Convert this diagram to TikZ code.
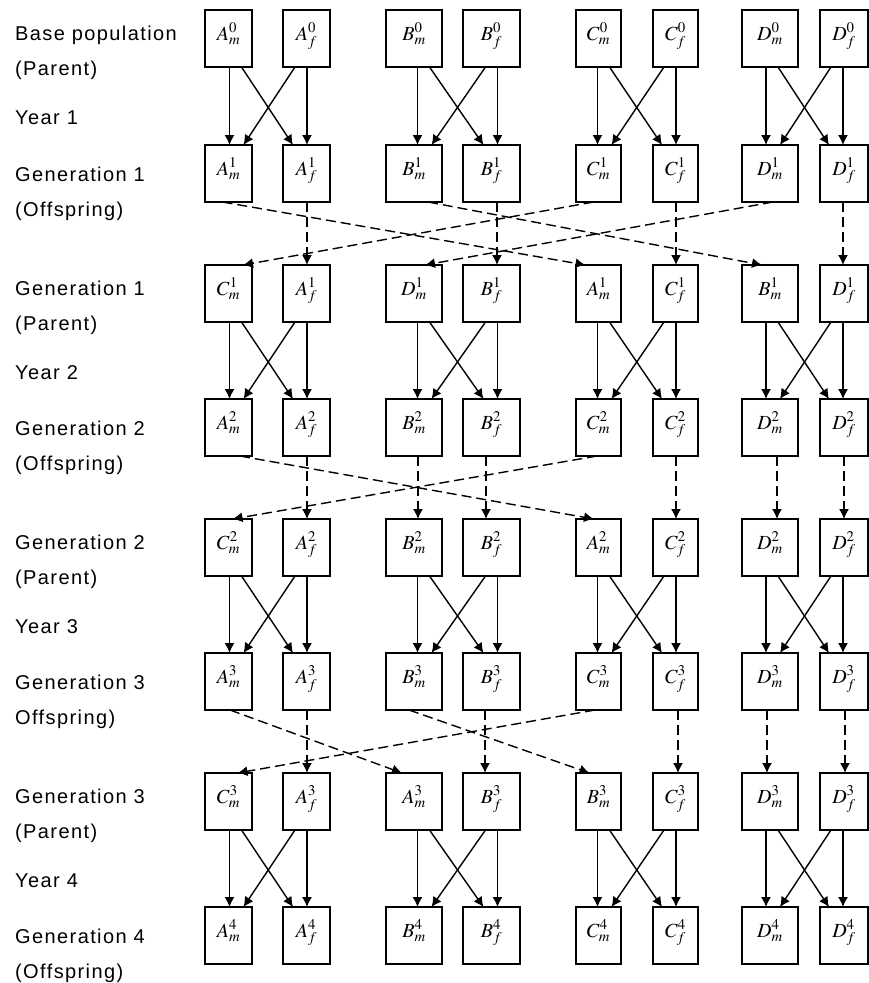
\documentclass[tikz,border=0pt]{standalone}
\usepackage{mathptmx}
\usepackage{fontspec}
\setmainfont{Liberation Sans}
\newfontfamily\labelfont[LetterSpace=7]{Liberation Sans}
\usetikzlibrary{arrows.meta}

% column centres, box widths and arrow offsets (px)
\def\colx{{228.5,306.5,414,491.5,598.5,675.5,770,844}}
\def\colw{{47,47,56,57,45,45,56,48}}
\def\cold{{1,0.5,3.5,6,-1,0.5,-4,-1}}

\tikzset{
  cell/.style={draw, line width=1.5pt, minimum height=57pt, inner sep=0pt,
    outer sep=0pt, text height=12pt, text depth=9pt,
    font=\fontsize{20}{24}\selectfont},
  lbl/.style={anchor=base west, inner sep=0pt,
    font=\labelfont\fontsize{20}{24}\selectfont},
  mating/.style={line width=1.4pt, -{Latex[length=10pt,width=10pt]}},
  swap/.style={mating, dash pattern=on 10pt off 5pt},
}

% one row of boxes: #1 row, #2 centre y, #3 contents
\newcommand{\cellrow}[3]{%
  \foreach \txt [count=\col] in {#3} {
    \pgfmathsetmacro\xx{\colx[\col-1]}
    \pgfmathsetmacro\ww{\colw[\col-1]}
    \node[cell, minimum width=\ww pt] (b#1\col) at (\xx,#2) {$\txt$};
  }}

\begin{document}
\begin{tikzpicture}[x=1pt, y=-1pt]
    \useasboundingbox (0,0) rectangle (869,983);

    % row labels
    \foreach \y/\txt [count=\i] in {40/Base population, 75/(Parent), 124/Year 1,
        181/Generation 1, 216/(Offspring), 295/Generation 1, 330/(Parent), 379/Year 2,
        435/Generation 2, 470/(Offspring), 549/Generation 2, 584/(Parent), 633/Year 3,
        689/Generation 3, 724/Offspring), 803/Generation 3, 838/(Parent), 887/Year 4,
        943/Generation 4, 978/(Offspring)}
        \node[lbl] (lab\i) at (15,\y) {\txt};

    % boxes
    \cellrow{1}{38.5}{A^{0}_{m}, A^{0}_{f}, B^{0}_{m}, B^{0}_{f}, C^{0}_{m}, C^{0}_{f}, D^{0}_{m}, D^{0}_{f}}
    \cellrow{2}{173.5}{A^{1}_{m}, A^{1}_{f}, B^{1}_{m}, B^{1}_{f}, C^{1}_{m}, C^{1}_{f}, D^{1}_{m}, D^{1}_{f}}
    \cellrow{3}{293.5}{C^{1}_{m}, A^{1}_{f}, D^{1}_{m}, B^{1}_{f}, A^{1}_{m}, C^{1}_{f}, B^{1}_{m}, D^{1}_{f}}
    \cellrow{4}{427.5}{A^{2}_{m}, A^{2}_{f}, B^{2}_{m}, B^{2}_{f}, C^{2}_{m}, C^{2}_{f}, D^{2}_{m}, D^{2}_{f}}
    \cellrow{5}{547.5}{C^{2}_{m}, A^{2}_{f}, B^{2}_{m}, B^{2}_{f}, A^{2}_{m}, C^{2}_{f}, D^{2}_{m}, D^{2}_{f}}
    \cellrow{6}{681.5}{A^{3}_{m}, A^{3}_{f}, B^{3}_{m}, B^{3}_{f}, C^{3}_{m}, C^{3}_{f}, D^{3}_{m}, D^{3}_{f}}
    \cellrow{7}{801.5}{C^{3}_{m}, A^{3}_{f}, A^{3}_{m}, B^{3}_{f}, B^{3}_{m}, C^{3}_{f}, D^{3}_{m}, D^{3}_{f}}
    \cellrow{8}{935.5}{A^{4}_{m}, A^{4}_{f}, B^{4}_{m}, B^{4}_{f}, C^{4}_{m}, C^{4}_{f}, D^{4}_{m}, D^{4}_{f}}

    % parents -> offspring
    \foreach \r/\s in {1/2,3/4,5/6,7/8}
      \foreach \m/\f in {1/2,3/4,5/6,7/8} {
        \pgfmathsetmacro\dm{\cold[\m-1]}
        \pgfmathsetmacro\df{\cold[\f-1]}
        \pgfmathsetmacro\dma{\dm+12}
        \pgfmathsetmacro\dmb{\dm+14}
        \pgfmathsetmacro\dfa{\df-12}
        \pgfmathsetmacro\dfb{\df-14}
        \draw[mating] ([xshift=\dm pt]b\r\m.south) -- ([xshift=\dm pt]b\s\m.north);
        \draw[mating] ([xshift=\df pt]b\r\f.south) -- ([xshift=\df pt]b\s\f.north);
        \draw[mating] ([xshift=\dma pt]b\r\m.south) -- ([xshift=\dfb pt]b\s\f.north);
        \draw[mating] ([xshift=\dfa pt]b\r\f.south) -- ([xshift=\dmb pt]b\s\m.north);
      }

    % offspring -> next parents
    \foreach \a/\b/\sa/\sb in {21/35/-6/-13, 22/32/0.5/0.5, 23/37/14/-8, 24/34/5.5/5.5,
        25/31/-5/14.5, 26/36/0.5/0.5, 27/33/3/11, 28/38/-1/-1,
        41/55/11.5/-4.5, 42/52/0.5/0.5, 43/53/4/4, 44/54/-5.5/-5.5,
        45/51/-1.5/4, 46/56/0.5/0.5, 47/57/7/7, 48/58/0/0,
        61/73/1.5/-12, 62/72/0.5/0.5, 63/75/-5/-9, 64/74/-6.5/-6.5,
        65/71/-3.5/9, 66/76/2.5/2.5, 67/77/-3/-3, 68/78/1/1}
        \draw[swap] ([xshift=\sa pt]b\a.south) -- ([xshift=\sb pt]b\b.north);
\end{tikzpicture}
\end{document}
